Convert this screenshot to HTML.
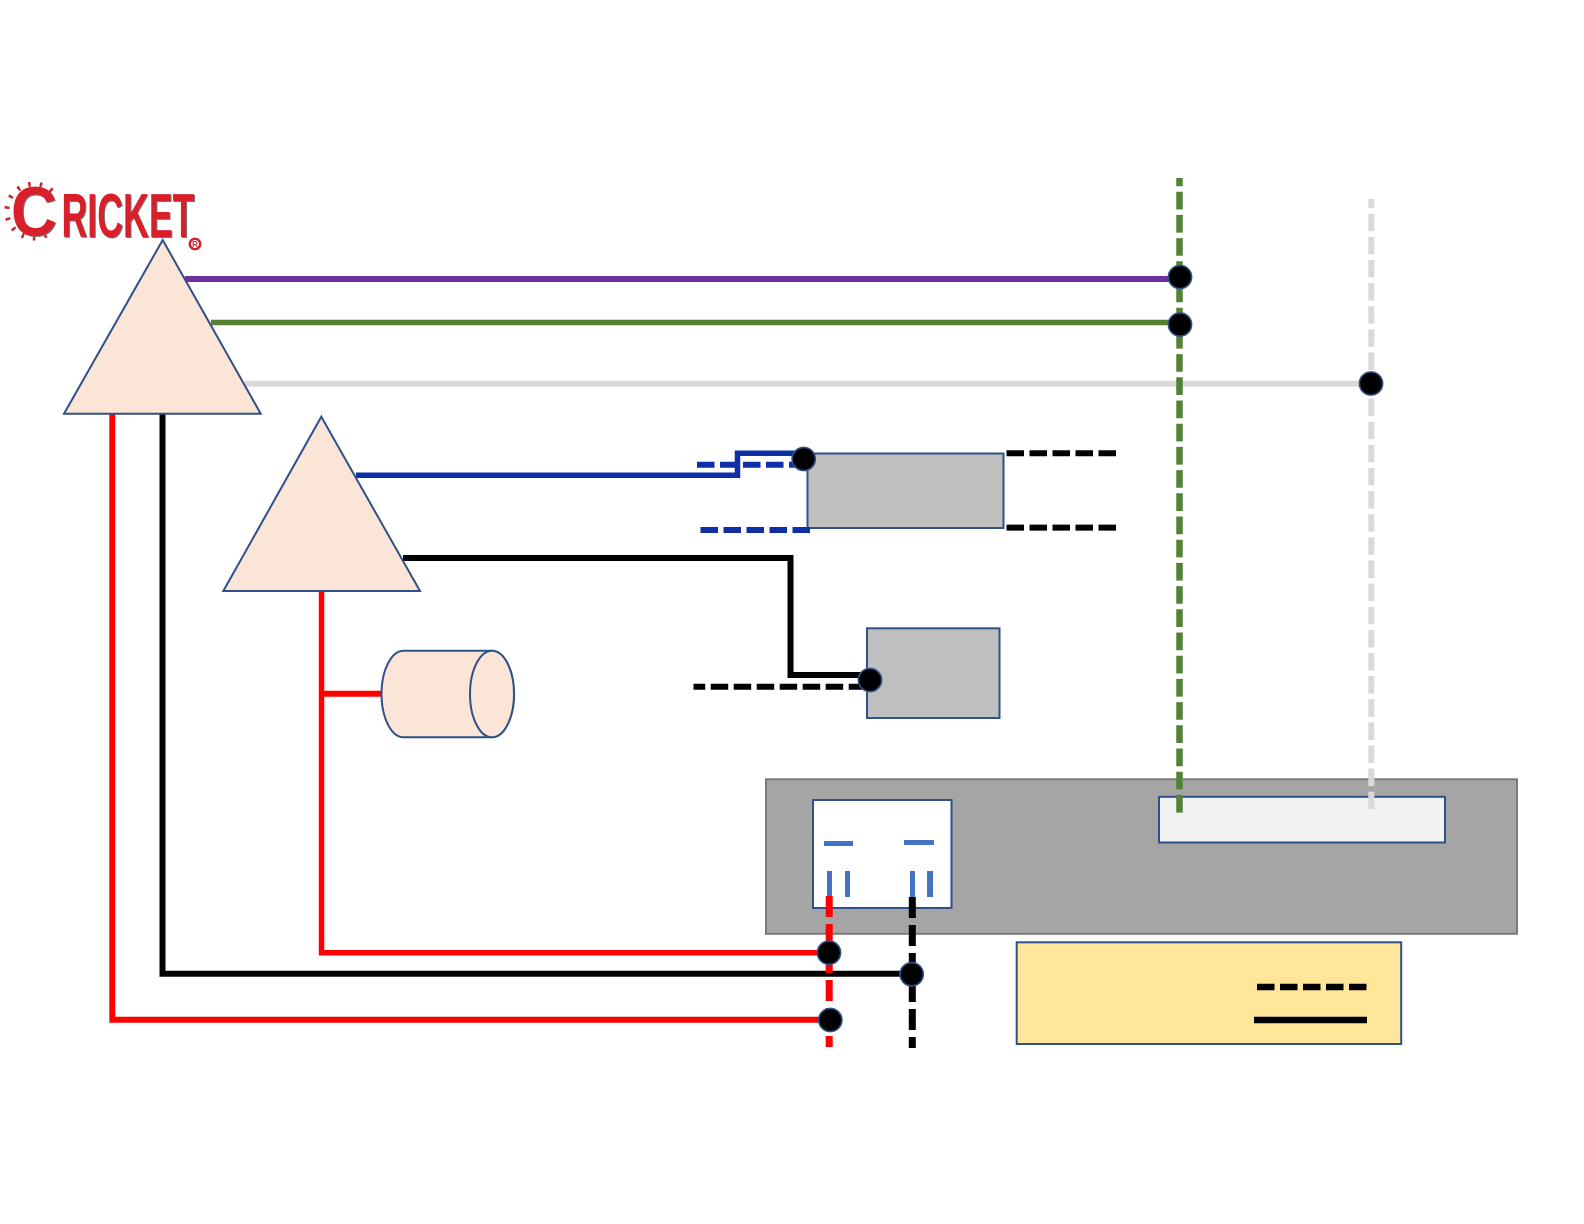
<!DOCTYPE html>
<html lang="en">
<head>
<meta charset="utf-8">
<title>Cricket wiring diagram</title>
<style>
html,body{margin:0;padding:0;background:#fff;width:1584px;height:1224px;overflow:hidden}
svg{display:block}
</style>
</head>
<body>
<svg xmlns="http://www.w3.org/2000/svg" width="1584" height="1224" viewBox="0 0 1584 1224">
<rect width="1584" height="1224" fill="#fff"/>

<!-- Logo -->
<path d="M52,191 A27,27 0 1 0 52,231" fill="none" stroke="#c9242c" stroke-width="5" stroke-dasharray="2.5 9"/>
<g font-family="'Liberation Sans',sans-serif" font-weight="bold">
  <text x="12" y="236.5" font-size="70" fill="#777" textLength="46" lengthAdjust="spacingAndGlyphs">C</text>
  <text x="11" y="235.5" font-size="70" fill="#d81f2a" textLength="46" lengthAdjust="spacingAndGlyphs">C</text>
  <text x="62.5" y="238" font-size="62" fill="#777" textLength="133" lengthAdjust="spacingAndGlyphs">RICKET</text>
  <text x="61.5" y="237" font-size="62" fill="#d81f2a" textLength="133" lengthAdjust="spacingAndGlyphs">RICKET</text>
</g>
<circle cx="195" cy="244" r="5.2" fill="#fff" stroke="#c9242c" stroke-width="2.4"/>
<text x="195" y="247" font-family="'Liberation Sans',sans-serif" font-size="8" font-weight="bold" fill="#c9242c" text-anchor="middle">R</text>

<!-- Grey panel and its boxes -->
<rect x="766" y="779.3" width="751" height="154.5" fill="#a5a5a5" stroke="#7a7a7a" stroke-width="2"/>
<rect x="813" y="800" width="138.5" height="108" fill="#fff" stroke="#2f5088" stroke-width="2"/>
<rect x="1159" y="796.8" width="286" height="45.7" fill="#f2f2f2" stroke="#2f5088" stroke-width="2"/>

<!-- Blue terminal marks -->
<g fill="#4472c4">
  <rect x="824" y="841" width="29" height="5"/>
  <rect x="904" y="840" width="30" height="5"/>
  <rect x="827" y="871" width="5" height="26"/>
  <rect x="845" y="871" width="5" height="26"/>
  <rect x="910" y="871" width="5" height="26"/>
  <rect x="927" y="871" width="6" height="26"/>
</g>

<!-- Legend -->
<rect x="1016.7" y="942.3" width="384.5" height="101.7" fill="#ffe699" stroke="#2f5088" stroke-width="2"/>
<line x1="1257" y1="987" x2="1367" y2="987" stroke="#000" stroke-width="6.5" stroke-dasharray="17.5 5.5"/>
<line x1="1254" y1="1020" x2="1367" y2="1020" stroke="#000" stroke-width="6.5"/>

<!-- Grey component boxes -->
<rect x="807.5" y="453.5" width="196" height="74.5" fill="#bfbfbf" stroke="#2f5088" stroke-width="2"/>
<rect x="867" y="628.3" width="132.5" height="89.7" fill="#bfbfbf" stroke="#2f5088" stroke-width="2"/>

<!-- Solid connectors -->
<g fill="none" stroke-linejoin="miter">
  <line x1="185" y1="279" x2="1175" y2="279" stroke="#7030a0" stroke-width="6"/>
  <line x1="211" y1="322.5" x2="1175" y2="322.5" stroke="#548235" stroke-width="5.5"/>
  <line x1="245" y1="383.7" x2="1365" y2="383.7" stroke="#d9d9d9" stroke-width="6"/>
  <polyline points="356,475.3 737.5,475.3 737.5,453.3 800,453.3" stroke="#0f2fa8" stroke-width="5.5"/>
  <polyline points="403,558 790.5,558 790.5,675 868,675" stroke="#000" stroke-width="6"/>
  <polyline points="112.3,413 112.3,1019.7 825,1019.7" stroke="#f00" stroke-width="6"/>
  <polyline points="162.5,413 162.5,973.7 905,973.7" stroke="#000" stroke-width="6"/>
  <polyline points="321.5,591 321.5,952.7 825,952.7" stroke="#f00" stroke-width="5.5"/>
  <line x1="321.5" y1="693.8" x2="382" y2="693.8" stroke="#f00" stroke-width="6"/>
</g>

<!-- Dashed connectors -->
<g fill="none">
  <line x1="1179.5" y1="178" x2="1179.5" y2="812.7" stroke="#548235" stroke-width="6.5" stroke-dasharray="17.7 5.5" stroke-dashoffset="9.5"/>
  <line x1="1371.3" y1="199" x2="1371.3" y2="809" stroke="#d9d9d9" stroke-width="6" stroke-dasharray="17.5 5.62" stroke-dashoffset="8.4"/>
  <line x1="697" y1="464.7" x2="795" y2="464.7" stroke="#0f2fa8" stroke-width="6" stroke-dasharray="17.5 5.5"/>
  <line x1="700.5" y1="530" x2="810" y2="530" stroke="#0f2fa8" stroke-width="6" stroke-dasharray="17.5 5.5"/>
  <line x1="1006.5" y1="453.3" x2="1116" y2="453.3" stroke="#000" stroke-width="6" stroke-dasharray="17.5 5.5"/>
  <line x1="1006.5" y1="527.6" x2="1116" y2="527.6" stroke="#000" stroke-width="6" stroke-dasharray="17.5 5.5"/>
  <line x1="693.5" y1="686.7" x2="866" y2="686.7" stroke="#000" stroke-width="6" stroke-dasharray="17.5 5.5" stroke-dashoffset="5.8"/>
  <line x1="829.2" y1="896" x2="829.2" y2="1047" stroke="#f00" stroke-width="7" stroke-dasharray="21 7"/>
  <line x1="912.3" y1="897" x2="912.3" y2="1048" stroke="#000" stroke-width="7" stroke-dasharray="21 7"/>
</g>

<!-- Triangles -->
<polygon points="162.7,240 260.7,413.7 64,413.7" fill="#fbe5d6" stroke="#2f5088" stroke-width="2" stroke-linejoin="miter"/>
<polygon points="321.3,416.7 420,591 223.3,591" fill="#fbe5d6" stroke="#2f5088" stroke-width="2" stroke-linejoin="miter"/>

<!-- Cylinder -->
<path d="M403.5,650.7 H492 A22,43.3 0 0 1 492,737.3 H403.5 A22,43.3 0 0 1 403.5,650.7 Z" fill="#fbe5d6" stroke="#2f5088" stroke-width="2"/>
<ellipse cx="492" cy="694" rx="22" ry="43.3" fill="#fbe5d6" stroke="#2f5088" stroke-width="2"/>

<!-- Junction dots -->
<g fill="#000" stroke="#2f5088" stroke-width="1.6">
  <circle cx="1180" cy="277" r="11.6"/>
  <circle cx="1180" cy="324.5" r="11.6"/>
  <circle cx="1371" cy="383.5" r="11.6"/>
  <circle cx="803.7" cy="459" r="11.6"/>
  <circle cx="870" cy="680" r="11.6"/>
  <circle cx="829" cy="952.7" r="11.6"/>
  <circle cx="911.7" cy="974.3" r="11.6"/>
  <circle cx="830.3" cy="1020" r="11.6"/>
</g>
</svg>
</body>
</html>
